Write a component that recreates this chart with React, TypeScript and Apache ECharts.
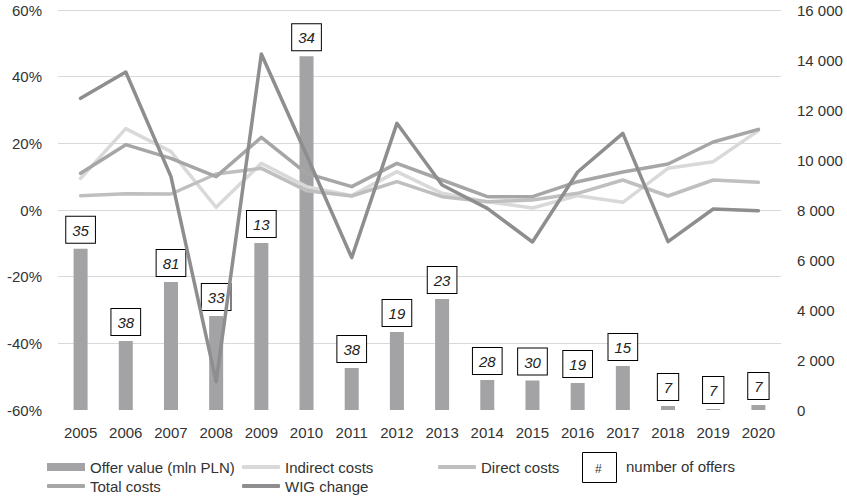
import React, { useEffect, useRef } from "react";
import * as echarts from "echarts";

const years = ["2005","2006","2007","2008","2009","2010","2011","2012","2013","2014","2015","2016","2017","2018","2019","2020"];
const offerValue = [6450, 2760, 5120, 3760, 6680, 14150, 1680, 3120, 4440, 1200, 1180, 1080, 1760, 160, 40, 200];
const offerCount = [35, 38, 81, 33, 13, 34, 38, 19, 23, 28, 30, 19, 15, 7, 7, 7];
const indirectCosts = [9.5, 24.4, 17.5, 0.8, 14, 7, 4.3, 11.5, 5, 2.5, 0.6, 4.3, 2.3, 12.5, 14.5, 23.8];
const directCosts = [4.3, 4.9, 4.8, 10.8, 12.5, 5.8, 4.2, 8.5, 4, 2.5, 3, 5, 9, 4.2, 9, 8.3];
const totalCosts = [11, 19.6, 15.5, 10, 21.8, 11, 7, 14, 9, 4, 4, 8.5, 11.4, 13.8, 20.4, 24.2];
const wigChange = [33.5, 41.4, 10, -51.5, 46.8, 16.5, -14.3, 26, 7.5, 0.5, -9.6, 11.4, 23, -9.5, 0.3, -0.2];

const FONT = "Liberation Sans, Arial, sans-serif";
const TXT = "#333333";

export default function App() {
  const ref = useRef<HTMLDivElement>(null);
  useEffect(() => {
    if (!ref.current) return;
    const chart = echarts.init(ref.current, null, { renderer: "svg" });
    const lineSeries = (name: string, data: number[], color: string) => ({
      name,
      type: "line",
      yAxisIndex: 0,
      data,
      symbol: "none",
      lineStyle: { color, width: 3.5, cap: "round", join: "round" },
      itemStyle: { color },
      z: 3,
    });
    const legendBase = {
      orient: "horizontal",
      padding: 0,
      itemWidth: 38,
      itemHeight: 4,
      textStyle: { fontFamily: FONT, fontSize: 15, lineHeight: 16, color: TXT },
      selectedMode: false,
    };
    chart.setOption({
      animation: false,
      textStyle: { fontFamily: FONT },
      grid: { left: 58, right: 66, top: 10, bottom: 86, containLabel: false },
      xAxis: {
        type: "category",
        data: years,
        axisLine: { show: false },
        axisTick: { show: false },
        axisLabel: { color: TXT, fontSize: 15, fontFamily: FONT, margin: 15 },
      },
      yAxis: [
        {
          type: "value",
          min: -60,
          max: 60,
          interval: 20,
          axisLine: { show: false },
          axisTick: { show: false },
          axisLabel: { color: TXT, fontSize: 15, fontFamily: FONT, margin: 16, formatter: (v: number) => `${v}%` },
          splitLine: {
            lineStyle: {
              color: ["rgba(0,0,0,0)", "#d9d9d9", "#d9d9d9", "#d9d9d9", "#d9d9d9", "#d9d9d9", "#d9d9d9"],
              width: 1,
            },
          },
        },
        {
          type: "value",
          min: 0,
          max: 16000,
          interval: 2000,
          axisLine: { show: false },
          axisTick: { show: false },
          splitLine: { show: false },
          axisLabel: {
            color: TXT,
            fontSize: 15,
            fontFamily: FONT,
            margin: 16,
            formatter: (v: number) => String(v).replace(/\B(?=(\d{3})+(?!\d))/g, " "),
          },
        },
      ],
      legend: [
        { ...legendBase, itemHeight: 8, left: 47, top: 459, data: [{ name: "Offer value (mln PLN)", icon: "rect" }] },
        { ...legendBase, left: 242, top: 459, data: [{ name: "Indirect costs", icon: "roundRect" }] },
        { ...legendBase, left: 438, top: 459, data: [{ name: "Direct costs", icon: "roundRect" }] },
        { ...legendBase, left: 47, top: 478, data: [{ name: "Total costs", icon: "roundRect" }] },
        { ...legendBase, left: 242, top: 478, data: [{ name: "WIG change", icon: "roundRect" }] },
      ],
      graphic: [
        {
          type: "rect",
          left: 582,
          top: 452,
          shape: { width: 34, height: 30 },
          style: { fill: "#ffffff", stroke: "#000000", lineWidth: 1 },
        },
        {
          type: "text",
          left: 595,
          top: 463,
          style: { text: "#", fontSize: 12, fontFamily: FONT, fill: TXT },
        },
        {
          type: "text",
          left: 626,
          top: 459,
          style: { text: "number of offers", fontSize: 15, fontFamily: FONT, fill: TXT },
        },
      ],
      series: [
        {
          name: "Offer value (mln PLN)",
          type: "bar",
          yAxisIndex: 1,
          data: offerValue,
          barWidth: 14,
          itemStyle: { color: "#a3a3a6" },
          z: 2,
          label: {
            show: true,
            position: "top",
            distance: 6,
            formatter: (p: any) => String(offerCount[p.dataIndex]),
            fontStyle: "italic",
            fontFamily: FONT,
            fontSize: 15,
            lineHeight: 17,
            color: "#222222",
            backgroundColor: "#ffffff",
            borderColor: "#000000",
            borderWidth: 1,
            padding: [5, 6, 4, 6],
          },
        },
        lineSeries("Indirect costs", indirectCosts, "#d9d9d9"),
        lineSeries("Direct costs", directCosts, "#bfbfbf"),
        lineSeries("Total costs", totalCosts, "#a6a6a6"),
        lineSeries("WIG change", wigChange, "#8e8e91"),
      ],
    });
    return () => chart.dispose();
  }, []);
  return <div ref={ref} style={{ width: 847, height: 496, position: "absolute", left: 0, top: 0 }} />;
}
